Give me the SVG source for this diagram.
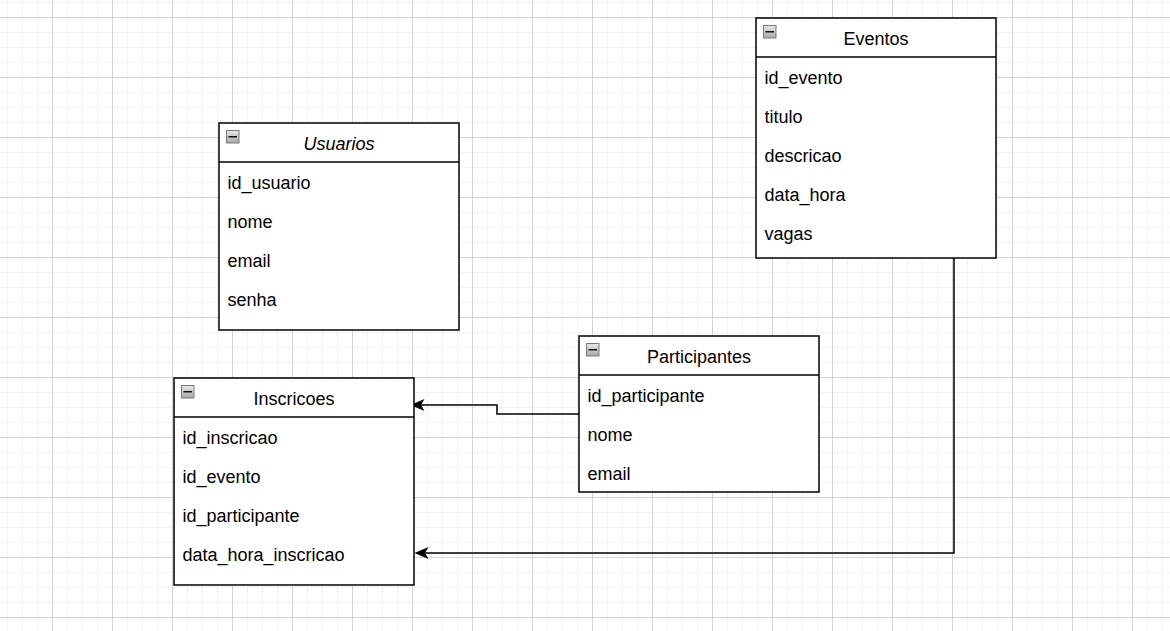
<svg xmlns="http://www.w3.org/2000/svg" width="1170" height="631" viewBox="0 0 1170 631">
<style>
.box{fill:#fff;stroke:#000;stroke-width:1.5}
.sep{stroke:#000;stroke-width:1.5}
.t{font-family:"Liberation Sans",Arial,sans-serif;font-size:18px;fill:#000}
.h{text-anchor:middle}
.edge{fill:none;stroke:#000;stroke-width:1.5}
.ic{fill:url(#icg);stroke:#7a7a7a;stroke-width:1}
.icm{stroke:#111;stroke-width:1.5}
</style>
<defs>
<pattern id="minor" width="15" height="15" patternUnits="userSpaceOnUse" x="7" y="2">
<path d="M0.5,0 V15 M0,0.5 H15" stroke="#f2f2f2" stroke-width="1" fill="none"/>
</pattern>
<pattern id="major" width="60" height="60" patternUnits="userSpaceOnUse" x="52" y="17">
<path d="M0.5,0 V60 M0,0.5 H60" stroke="#d3d3d3" stroke-width="1" fill="none"/>
</pattern>
<linearGradient id="icg" x1="0" y1="0" x2="0" y2="1">
<stop offset="0" stop-color="#e8e8e8"/>
<stop offset="1" stop-color="#a8a8a8"/>
</linearGradient>
<marker id="arr" viewBox="0 0 14 12" refX="3.5" refY="6" markerWidth="14" markerHeight="12" markerUnits="userSpaceOnUse" orient="auto">
<path d="M0,0 L14,6 L0,12 L3.5,6 Z" fill="#000"/>
</marker>
</defs>
<rect width="1170" height="631" fill="#fff"/>
<rect width="1170" height="631" fill="url(#minor)"/>
<rect width="1170" height="631" fill="url(#major)"/>

<g id="connectors">
<path class="edge" d="M579,414 H497 V405 H421" marker-end="url(#arr)"/>
<path class="edge" d="M954,258 V553 H425" marker-end="url(#arr)"/>
</g>

<g id="usuarios">
<rect class="box" x="219" y="123" width="240" height="207"/>
<line class="sep" x1="219" y1="162" x2="459" y2="162"/>
<rect class="ic" x="226.5" y="130.5" width="12.5" height="12.5"/>
<line class="icm" x1="228.5" y1="136.75" x2="237" y2="136.75"/>
<text class="t h" x="339" y="150" font-style="italic">Usuarios</text>
<text class="t" x="227.5" y="189">id_usuario</text>
<text class="t" x="227.5" y="228">nome</text>
<text class="t" x="227.5" y="267">email</text>
<text class="t" x="227.5" y="306">senha</text>
</g>

<g id="eventos">
<rect class="box" x="756" y="18" width="240" height="240"/>
<line class="sep" x1="756" y1="57" x2="996" y2="57"/>
<rect class="ic" x="763.5" y="25.5" width="12.5" height="12.5"/>
<line class="icm" x1="765.5" y1="31.75" x2="774" y2="31.75"/>
<text class="t h" x="876" y="45">Eventos</text>
<text class="t" x="764.5" y="84">id_evento</text>
<text class="t" x="764.5" y="123">titulo</text>
<text class="t" x="764.5" y="162">descricao</text>
<text class="t" x="764.5" y="201">data_hora</text>
<text class="t" x="764.5" y="240">vagas</text>
</g>

<g id="participantes">
<rect class="box" x="579" y="336" width="240" height="156"/>
<line class="sep" x1="579" y1="375" x2="819" y2="375"/>
<rect class="ic" x="586.5" y="343.5" width="12.5" height="12.5"/>
<line class="icm" x1="588.5" y1="349.75" x2="597" y2="349.75"/>
<text class="t h" x="699" y="363">Participantes</text>
<text class="t" x="587.5" y="402">id_participante</text>
<text class="t" x="587.5" y="441">nome</text>
<text class="t" x="587.5" y="480">email</text>
</g>

<g id="inscricoes">
<rect class="box" x="174" y="378" width="240" height="207"/>
<line class="sep" x1="174" y1="417" x2="414" y2="417"/>
<rect class="ic" x="181.5" y="385.5" width="12.5" height="12.5"/>
<line class="icm" x1="183.5" y1="391.75" x2="192" y2="391.75"/>
<text class="t h" x="294" y="405">Inscricoes</text>
<text class="t" x="182.5" y="444">id_inscricao</text>
<text class="t" x="182.5" y="483">id_evento</text>
<text class="t" x="182.5" y="522">id_participante</text>
<text class="t" x="182.5" y="561">data_hora_inscricao</text>
</g>
</svg>
